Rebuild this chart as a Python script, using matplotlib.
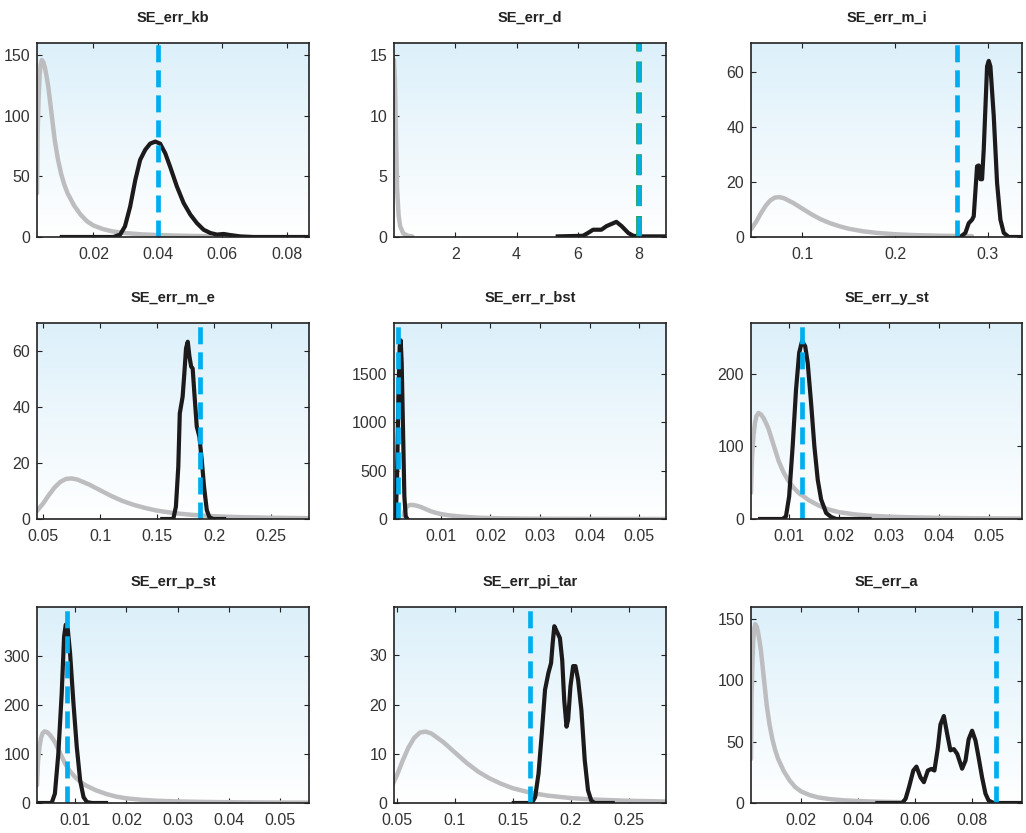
import numpy as np
import matplotlib
matplotlib.use("Agg")
import matplotlib.pyplot as plt
from matplotlib.colors import LinearSegmentedColormap

# ---------------- data ----------------
titles = ["SE_err_kb", "SE_err_d", "SE_err_m_i",
          "SE_err_m_e", "SE_err_r_bst", "SE_err_y_st",
          "SE_err_p_st", "SE_err_pi_tar", "SE_err_a"]

# prior shared by the small shocks (kb, r_bst, y_st, p_st, a)
shock_prior_x = [0.0025, 0.0027, 0.0030, 0.0033, 0.0036, 0.0040, 0.0045, 0.0050, 0.0055,
                 0.0060, 0.0070, 0.0080, 0.0090, 0.0100, 0.0110, 0.0120, 0.0140, 0.0160,
                 0.0180, 0.0200, 0.0230, 0.0260, 0.0300, 0.0350, 0.0400, 0.0450, 0.0500, 0.0560]
shock_prior_y = [36, 85, 115, 133, 142, 146, 144, 139, 132,
                 124, 102, 80, 64, 52, 43, 36, 26, 18.5,
                 13, 9.5, 6.5, 4.6, 3.2, 2.2, 1.6, 1.2, 0.9, 0.7]

# prior shared by m_i, m_e, pi_tar
m_prior_x = [0.0445, 0.050, 0.055, 0.060, 0.065, 0.070, 0.075, 0.080, 0.090, 0.100, 0.110,
             0.120, 0.130, 0.140, 0.150, 0.165, 0.180, 0.200, 0.220, 0.250, 0.283]
m_prior_y = [2.8, 5.5, 8.5, 11.2, 13.2, 14.3, 14.5, 14.1, 12.4, 10.3, 8.2,
             6.4, 5.0, 3.9, 3.0, 2.1, 1.5, 1.0, 0.7, 0.45, 0.3]

# prior for d
d_prior_x = [0.0, 0.03, 0.06, 0.10, 0.15, 0.20, 0.30, 0.45, 0.60]
d_prior_y = [14.6, 13.0, 9.0, 4.0, 1.8, 0.9, 0.3, 0.1, 0.05]

# posteriors
kb_post_x = [0.0102, 0.0262, 0.0283, 0.0298, 0.0314, 0.0330, 0.0345, 0.0361, 0.0376, 0.0392,
             0.0407, 0.0423, 0.0438, 0.0459, 0.0480, 0.0501, 0.0521, 0.0542, 0.0563, 0.0583,
             0.0604, 0.0625, 0.0656, 0.0697, 0.0869]
kb_post_y = [0, 0, 2, 8.8, 25, 47, 63.6, 72, 77, 78.7,
             77, 69, 58, 41.7, 28, 18.4, 11.5, 6, 3.3, 2,
             2.5, 1.6, 0.5, 0, 0]

d_post_x = [5.345, 6.17, 6.33, 6.50, 6.77, 6.94, 7.26, 7.43, 7.65, 7.81, 8.03, 8.88]
d_post_y = [0.05, 0.1, 0.33, 0.6, 0.6, 0.9, 1.25, 0.9, 0.33, 0.1, 0.05, 0.05]

m_i_post_x = [0.2705, 0.2759, 0.2795, 0.2831, 0.2849, 0.2885, 0.2903, 0.2921, 0.2939, 0.2957,
              0.2993, 0.3011, 0.3029, 0.3065, 0.3101, 0.3137, 0.3173, 0.3227, 0.3370]
m_i_post_y = [0, 1.5, 5, 6.3, 7.5, 25.7, 26, 21, 21, 31.8,
              62, 64, 62, 44, 19.6, 6.3, 1.5, 0, 0]

m_e_post_x = [0.1546, 0.1643, 0.1666, 0.1687, 0.1700, 0.1725, 0.1740, 0.1755, 0.1770, 0.1785,
              0.1800, 0.1813, 0.1828, 0.1849, 0.1872, 0.1893, 0.1913, 0.1937, 0.1960, 0.1995, 0.2089]
m_e_post_y = [0, 0, 4.4, 18.7, 37.7, 43.7, 52, 61, 63.3, 58,
              54.4, 53.8, 44.9, 33, 29.4, 21, 11.5, 3.2, 0.6, 0, 0]

r_bst_post_x = [0.00091, 0.00118, 0.00145, 0.00172, 0.00192, 0.00212, 0.00239, 0.00266,
                0.00293, 0.00327]
r_bst_post_y = [0, 407, 1269, 1786, 1848, 1614, 924, 234, 28, 0]

y_st_post_x = [0.00433, 0.0088, 0.00947, 0.0101, 0.0108, 0.01147, 0.0121, 0.01267, 0.0133,
               0.0138, 0.01447, 0.01513, 0.0158, 0.01647, 0.01747, 0.01847, 0.01947, 0.02613]
y_st_post_y = [0, 0, 3.7, 31, 100, 178, 229, 245, 238,
               215, 160, 100, 54, 27, 8.3, 2.8, 0, 0]

p_st_post_x = [0.0022, 0.00536, 0.0060, 0.00667, 0.00733, 0.0078, 0.00812, 0.0085, 0.00897,
               0.00963, 0.01028, 0.01094, 0.0116, 0.01225, 0.01324, 0.0160]
p_st_post_y = [0, 0, 19, 100, 223, 339, 363, 356, 305,
               203, 114, 46, 12, 2, 0, 0]

pi_tar_post_x = [0.1509, 0.1665, 0.1693, 0.1722, 0.1750, 0.1778, 0.1807, 0.1830, 0.1844, 0.1858,
                 0.1878, 0.1906, 0.1926, 0.1943, 0.1963, 0.1977, 0.1997, 0.2020, 0.2040, 0.2063,
                 0.2091, 0.2120, 0.2148, 0.2176, 0.2205, 0.2361]
pi_tar_post_y = [0, 0, 1.2, 6, 14.1, 23, 26.4, 28.4, 32.5, 35.9,
                 34.9, 33.5, 29, 21, 15.5, 16.9, 23.7, 27.8, 27.8, 25,
                 18.9, 8.7, 2.6, 0.5, 0, 0]

a_post_x = [0.0468, 0.0555, 0.0567, 0.0579, 0.0594, 0.0605, 0.0619, 0.0631, 0.0645, 0.0657,
            0.0668, 0.0680, 0.0689, 0.0701, 0.0713, 0.0724, 0.0736, 0.0748, 0.0765, 0.0777,
            0.0788, 0.0800, 0.0812, 0.0823, 0.0835, 0.0847, 0.0858, 0.0876, 0.0975]
a_post_y = [0, 0, 3.5, 13, 26.5, 29.7, 21, 17, 26.5, 27.8,
            26.5, 45, 64, 71, 56, 43, 44, 40, 28, 34.6,
            52, 59, 51, 37, 21, 7.6, 2, 0, 0]

# mode (dashed) lines
modes = [0.0402, 7.99, 0.2665, 0.188, 0.0014, 0.0126, 0.0083, 0.165, 0.0883]

# axis ranges
xlims = [(0.0025, 0.0869), (0.0, 8.88), (0.0445, 0.337),
         (0.0447, 0.2834), (0.00057, 0.0554), (0.0025, 0.0565),
         (0.0025, 0.0557), (0.0477, 0.2820), (0.0025, 0.0975)]
ylims = [160, 16, 70.5, 70, 2028, 270, 399, 39.8, 160]

xticks = [[0.02, 0.04, 0.06, 0.08], [2, 4, 6, 8], [0.1, 0.2, 0.3],
          [0.05, 0.1, 0.15, 0.2, 0.25], [0.01, 0.02, 0.03, 0.04, 0.05], [0.01, 0.02, 0.03, 0.04, 0.05],
          [0.01, 0.02, 0.03, 0.04, 0.05], [0.05, 0.1, 0.15, 0.2, 0.25], [0.02, 0.04, 0.06, 0.08]]
xticklabels = [["0.02", "0.04", "0.06", "0.08"], ["2", "4", "6", "8"], ["0.1", "0.2", "0.3"],
               ["0.05", "0.1", "0.15", "0.2", "0.25"], ["0.01", "0.02", "0.03", "0.04", "0.05"],
               ["0.01", "0.02", "0.03", "0.04", "0.05"], ["0.01", "0.02", "0.03", "0.04", "0.05"],
               ["0.05", "0.1", "0.15", "0.2", "0.25"], ["0.02", "0.04", "0.06", "0.08"]]
yticks = [[0, 50, 100, 150], [0, 5, 10, 15], [0, 20, 40, 60],
          [0, 20, 40, 60], [0, 500, 1000, 1500], [0, 100, 200],
          [0, 100, 200, 300], [0, 10, 20, 30], [0, 50, 100, 150]]

priors = [(shock_prior_x, shock_prior_y), (d_prior_x, d_prior_y), (m_prior_x, m_prior_y),
          (m_prior_x, m_prior_y), (shock_prior_x, shock_prior_y), (shock_prior_x, shock_prior_y),
          (shock_prior_x, shock_prior_y), (m_prior_x, m_prior_y), (shock_prior_x, shock_prior_y)]
posts = [(kb_post_x, kb_post_y), (d_post_x, d_post_y), (m_i_post_x, m_i_post_y),
         (m_e_post_x, m_e_post_y), (r_bst_post_x, r_bst_post_y), (y_st_post_x, y_st_post_y),
         (p_st_post_x, p_st_post_y), (pi_tar_post_x, pi_tar_post_y), (a_post_x, a_post_y)]

# ---------------- style ----------------
plt.rcParams['font.family'] = ['Liberation Sans Narrow', 'Liberation Sans', 'DejaVu Sans']

W, H = 1026, 833
fig = plt.figure(figsize=(W / 100, H / 100), dpi=100)

col_left = [37, 394, 751]
col_w = [272, 272, 271]
row_top = [43, 323, 607]
row_bot = [237, 519, 803]

grad_cmap = LinearSegmentedColormap.from_list("bg", ["#ffffff", "#dcf0fa"])
grad = np.linspace(0, 1, 256).reshape(-1, 1)

GRAY = "#bdbdbf"
BLACK = "#1c1a1b"
CYAN = "#00aeef"
GREEN = "#1fa468"
dash = (0, (3.6, 1.7))

for i in range(9):
    r, c = divmod(i, 3)
    left = col_left[c] / W
    bottom = (H - row_bot[r]) / H
    width = col_w[c] / W
    height = (row_bot[r] - row_top[r]) / H
    ax = fig.add_axes([left, bottom, width, height])

    ax.imshow(grad, cmap=grad_cmap, origin="lower", aspect="auto",
              extent=[0, 1, 0, 1], transform=ax.transAxes, zorder=0,
              interpolation="bilinear")

    px, py = priors[i]
    ax.plot(px, py, color=GRAY, lw=3.2, solid_capstyle="round", zorder=2)
    qx, qy = posts[i]
    ax.plot(qx, qy, color=BLACK, lw=3.0, solid_joinstyle="round", zorder=3)

    if i == 1:
        ax.axvline(modes[i], color=GREEN, lw=4.2, linestyle=dash, zorder=4)
        ax.axvline(modes[i], color=CYAN, lw=2.6, linestyle=(0, (3.6 * 4.2 / 2.6 - 0.3, 1.7 * 4.2 / 2.6 + 0.3)), zorder=5)
    else:
        ax.axvline(modes[i], color=CYAN, lw=3.4, linestyle=dash, zorder=4)

    ax.set_xlim(*xlims[i])
    ax.set_ylim(0, ylims[i])
    ax.set_xticks(xticks[i])
    ax.set_xticklabels(xticklabels[i])
    ax.set_yticks(yticks[i])
    ax.set_yticklabels([str(v) for v in yticks[i]])

    ax.tick_params(direction="in", length=3.5, width=0.8, top=True, right=True,
                   labelsize=11.5, colors="#222222", labelcolor="#333333")
    ax.tick_params(axis="x", pad=7)
    ax.tick_params(axis="y", pad=5)
    for sp in ax.spines.values():
        sp.set_linewidth(1.2)
        sp.set_color("#222222")
        sp.set_zorder(6)

    ax.set_title(titles[i], fontsize=10.5, fontweight="bold", pad=15, color="#222222")

fig.savefig("out.png", dpi=100)
